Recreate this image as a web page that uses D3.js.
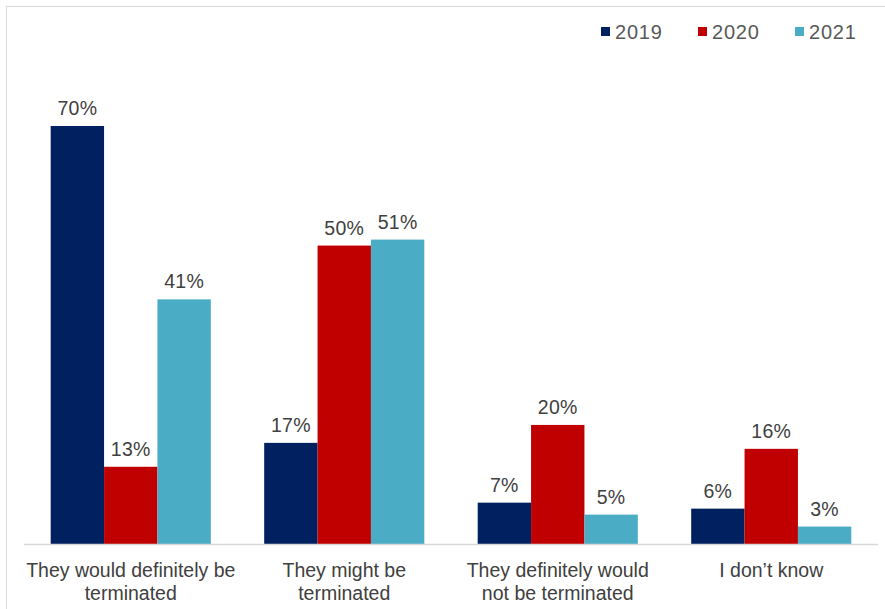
<!DOCTYPE html>
<html>
<head>
<meta charset="utf-8">
<script src="https://cdn.jsdelivr.net/npm/d3@7"></script>
<style>
  html, body { margin: 0; padding: 0; background: #fff; }
  svg { display: block; font-family: "Liberation Sans", Arial, sans-serif; }
</style>
</head>
<body>
<svg id="chart" width="885" height="609"></svg>
<script>
// Survey responses by year (percent)
const categories = [
  ["They would definitely be", "terminated"],
  ["They might be", "terminated"],
  ["They definitely would", "not be terminated"],
  ["I don\u2019t know"]
];
const years = ["2019", "2020", "2021"];
const values2019 = [70, 17, 7, 6];
const values2020 = [13, 50, 20, 16];
const values2021 = [41, 51, 5, 3];
const seriesColors = ["#002060", "#C00000", "#4BACC6"];

const series = [values2019, values2020, values2021];
const svg = d3.select("#chart");

// Outer frame
svg.append("rect")
  .attr("x", 6.5).attr("y", 6.5)
  .attr("width", 900).attr("height", 700)
  .attr("fill", "none").attr("stroke", "#d9d9d9").attr("stroke-width", 1);

const x0 = d3.scaleBand()
  .domain(d3.range(categories.length))
  .range([24, 878])
  .paddingInner(0.25)
  .paddingOuter(0.125);

const x1 = d3.scaleBand()
  .domain(years)
  .range([0, x0.bandwidth()]);

const y = d3.scaleLinear()
  .domain([0, 70])
  .range([544.5, 126]);

const groups = svg.append("g")
  .selectAll("g")
  .data(categories.map((c, i) => ({ i, vals: series.map((s, k) => ({ year: years[k], v: s[i], k })) })))
  .join("g")
  .attr("transform", d => `translate(${x0(d.i)},0)`);

groups.selectAll("rect")
  .data(d => d.vals)
  .join("rect")
  .attr("x", d => x1(d.year))
  .attr("y", d => y(d.v))
  .attr("width", x1.bandwidth())
  .attr("height", d => y(0) - y(d.v))
  .attr("fill", d => seriesColors[d.k]);

groups.selectAll("text.val")
  .data(d => d.vals)
  .join("text")
  .attr("class", "val")
  .attr("x", d => x1(d.year) + x1.bandwidth() / 2)
  .attr("y", d => y(d.v) - 11)
  .attr("text-anchor", "middle")
  .attr("font-size", 19.5)
  .attr("letter-spacing", 0.3)
  .attr("fill", "#404040")
  .text(d => d.v + "%");

// Baseline
svg.append("line")
  .attr("x1", 24).attr("x2", 878)
  .attr("y1", y(0)).attr("y2", y(0))
  .attr("stroke", "#d9d9d9").attr("stroke-width", 1.5);

// Category labels
const xAxis = svg.append("g");
categories.forEach((lines, i) => {
  const t = xAxis.append("text")
    .attr("x", x0(i) + x0.bandwidth() / 2)
    .attr("y", 577)
    .attr("text-anchor", "middle")
    .attr("font-size", 19.5)
    .attr("fill", "#404040");
  lines.forEach((ln, j) => {
    t.append("tspan")
      .attr("x", x0(i) + x0.bandwidth() / 2)
      .attr("dy", j === 0 ? 0 : 23)
      .text(ln);
  });
});

// Legend
const legendX = [601, 698, 795];
const legend = svg.append("g")
  .selectAll("g")
  .data(years)
  .join("g")
  .attr("transform", (d, i) => `translate(${legendX[i]},0)`);
legend.append("rect")
  .attr("x", 0).attr("y", 27)
  .attr("width", 9).attr("height", 9)
  .attr("fill", (d, i) => seriesColors[i]);
legend.append("text")
  .attr("x", 14).attr("y", 38.5)
  .attr("font-size", 20)
  .attr("letter-spacing", 0.8)
  .attr("fill", "#595959")
  .text(d => d);
</script>
</body>
</html>
